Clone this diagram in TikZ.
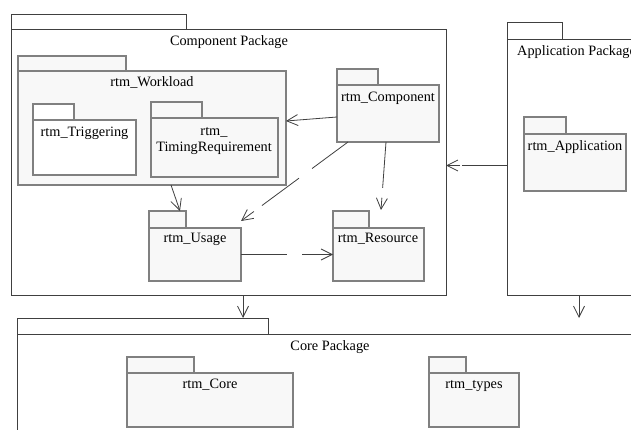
\documentclass[tikz,border=0pt]{standalone}
\usepackage{fontspec}
\setmainfont{Liberation Serif}
\usetikzlibrary{arrows.meta,calc}
\definecolor{outerline}{HTML}{404040}
\definecolor{innerline}{HTML}{808080}
\definecolor{pkgfill}{HTML}{F8F8F8}
\definecolor{depline}{HTML}{404040}
\newcommand\pkgbox[8]{%
  \pgfmathsetmacro\pw{#4-#3}\pgfmathsetmacro\ph{#8-#7}%
  \pgfmathsetmacro\tw{#5-#3}\pgfmathsetmacro\th{#7-#6}%
  \node[#2, minimum width=\tw pt, minimum height=\th pt, anchor=south west] (#1-tab) at (#3,#7) {};
  \node[#2, minimum width=\pw pt, minimum height=\ph pt, anchor=north west] (#1) at (#3,#7) {};
}
\begin{document}
\begin{tikzpicture}[x=1pt,y=-1pt,
  pkgouter/.style={rectangle, draw=outerline, fill=white, line width=0.8pt, inner sep=0pt, outer sep=0pt},
  pkginner/.style={rectangle, draw=innerline, fill=pkgfill, line width=1.1pt, inner sep=0pt, outer sep=0pt},
  pkgwhite/.style={rectangle, draw=innerline, fill=white, line width=1.1pt, inner sep=0pt, outer sep=0pt},
  lbl/.style={inner sep=0pt, font=\fontsize{14.3}{16}\selectfont, text=black},
  dep/.style={draw=depline, line width=0.8pt},
  deparrow/.style={dep, -{Straight Barb[length=11pt,width=11pt]}}]
\useasboundingbox (0,0) rectangle (631,430);
\clip (0,0) rectangle (631,430);
% outer packages
\pkgbox{cpkg}{pkgouter}{11}{446}{186}{14}{29}{295}
\pkgbox{apk}{pkgouter}{507}{657}{562}{22}{39}{295}
\pkgbox{core}{pkgouter}{17}{643}{268}{318}{334}{460}
% inner packages
\pkgbox{wl}{pkginner}{18}{286}{126}{56}{71}{185}
\pkgbox{trig}{pkgwhite}{33}{136}{74}{104}{120}{175}
\pkgbox{timing}{pkginner}{151}{278}{202}{102}{118}{177}
\pkgbox{comp}{pkginner}{337}{439}{378}{69}{85}{142}
\pkgbox{appl}{pkginner}{524}{626}{566}{117}{134}{191}
\pkgbox{us}{pkginner}{149}{241}{186}{211}{228}{281}
\pkgbox{res}{pkginner}{333}{424}{369}{211}{228}{281}
\pkgbox{rcore}{pkginner}{127}{293}{194}{357}{373}{427}
\pkgbox{types}{pkginner}{429}{519}{466}{357}{373}{427}
% labels
\node[lbl, anchor=base] (t-cpkg) at (229,45.5) {Component Package};
\node[lbl, anchor=base west] (t-apk) at (517,55.5) {Application Package};
\node[lbl, anchor=base] (t-core) at (330,350.5) {Core Package};
\node[lbl, anchor=base] (t-wl) at (152,86.5) {rtm\_Workload};
\node[lbl, anchor=base] (t-trig) at (84.5,136.5) {rtm\_Triggering};
\node[lbl, anchor=base] (t-timing1) at (214,135.5) {rtm\_};
\node[lbl, anchor=base] (t-timing2) at (214,151.5) {TimingRequirement};
\node[lbl, anchor=base] (t-comp) at (388,101.5) {rtm\_Component};
\node[lbl, anchor=base] (t-appl) at (575,150.5) {rtm\_Application};
\node[lbl, anchor=base] (t-us) at (195,242.5) {rtm\_Usage};
\node[lbl, anchor=base] (t-res) at (378,242.5) {rtm\_Resource};
\node[lbl, anchor=base] (t-rcore) at (210,388.5) {rtm\_Core};
\node[lbl, anchor=base] (t-types) at (474,388.5) {rtm\_types};
% connectors
\draw[deparrow] ([yshift=-3.5pt]comp.west) -- ([yshift=7pt]wl.east);
\draw[deparrow] ([xshift=19pt]wl.south) -- ([xshift=31pt,yshift=17pt]us.north west);
\coordinate (c1s) at ([xshift=11pt]comp.south west);
\coordinate (c1e) at ([yshift=7pt]us.north east);
\draw[dep] (c1s) -- ($(c1s)!0.336!(c1e)$);
\draw[dep] ($(c1s)!0.458!(c1e)$) -- ($(c1s)!0.804!(c1e)$);
\draw[deparrow] ($(c1s)!0.88!(c1e)$) -- (c1e);
\coordinate (c2s) at ([xshift=-2pt]comp.south);
\coordinate (c2e) at ([xshift=2.5pt,yshift=18pt]res.north);
\draw[dep] (c2s) -- ($(c2s)!0.676!(c2e)$);
\draw[deparrow] ($(c2s)!0.82!(c2e)$) -- (c2e);
\draw[dep] (us.east) -- ($(us.east)!0.5!(res.west)$);
\draw[deparrow] ($(us.east)!0.663!(res.west)$) -- (res.west);
\coordinate (c3e) at ([yshift=-3.5pt]cpkg.east);
\draw[dep] (apk.west |- c3e) -- ++(-45,0);
\draw[deparrow] ([xshift=14pt]c3e) -- (c3e);
\coordinate (c4s) at ([xshift=14.5pt]cpkg.south);
\draw[deparrow] (c4s) -- (c4s |- core-tab.north);
\coordinate (c5s) at ([xshift=-3pt]apk.south);
\draw[deparrow] (c5s) -- (c5s |- core-tab.north);
\end{tikzpicture}
\end{document}
